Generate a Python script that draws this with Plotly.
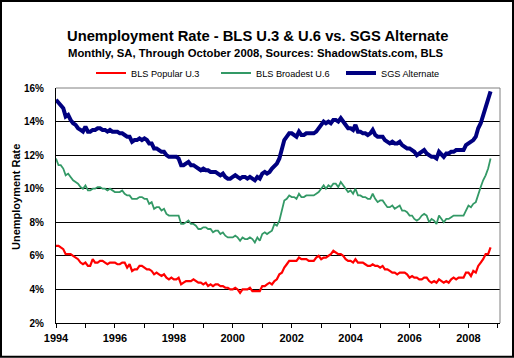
import pandas as pd
import plotly.graph_objects as go

# ---- data (monthly, SA, Jan 1994 - Oct 2008) ----
start_month = "1994-01-01"

u3_popular = [
    6.6, 6.6, 6.5, 6.4, 6.1, 6.1, 6.1, 6.0, 5.9, 5.8, 5.6, 5.5,   # 1994
    5.6, 5.4, 5.4, 5.8, 5.6, 5.6, 5.7, 5.7, 5.6, 5.5, 5.6, 5.6,   # 1995
    5.6, 5.5, 5.5, 5.6, 5.6, 5.3, 5.5, 5.1, 5.2, 5.2, 5.4, 5.4,   # 1996
    5.3, 5.2, 5.2, 5.1, 4.9, 5.0, 4.9, 4.8, 4.9, 4.7, 4.6, 4.7,   # 1997
    4.6, 4.6, 4.7, 4.3, 4.4, 4.5, 4.5, 4.5, 4.6, 4.5, 4.4, 4.4,   # 1998
    4.3, 4.4, 4.2, 4.3, 4.2, 4.3, 4.3, 4.2, 4.2, 4.1, 4.1, 4.0,   # 1999
    4.0, 4.1, 4.0, 3.8, 4.0, 4.0, 4.0, 4.1, 3.9, 3.9, 3.9, 3.9,   # 2000
    4.2, 4.2, 4.3, 4.4, 4.3, 4.5, 4.6, 4.9, 5.0, 5.3, 5.5, 5.7,   # 2001
    5.7, 5.7, 5.7, 5.9, 5.8, 5.8, 5.8, 5.7, 5.7, 5.7, 5.9, 6.0,   # 2002
    5.8, 5.9, 5.9, 6.0, 6.1, 6.3, 6.2, 6.1, 6.1, 6.0, 5.8, 5.7,   # 2003
    5.7, 5.6, 5.8, 5.6, 5.6, 5.6, 5.5, 5.4, 5.4, 5.5, 5.4, 5.4,   # 2004
    5.3, 5.4, 5.2, 5.2, 5.1, 5.0, 5.0, 4.9, 5.0, 5.0, 5.0, 4.9,   # 2005
    4.7, 4.8, 4.7, 4.7, 4.6, 4.6, 4.7, 4.7, 4.5, 4.4, 4.5, 4.4,   # 2006
    4.6, 4.5, 4.4, 4.5, 4.4, 4.6, 4.7, 4.6, 4.7, 4.7, 4.7, 5.0,   # 2007
    5.0, 4.8, 5.1, 5.0, 5.4, 5.6, 5.8, 6.1, 6.1, 6.5,             # 2008
]

u6_broadest = [
    11.8, 11.4, 11.4, 11.2, 10.8, 10.9, 10.7, 10.5, 10.4, 10.3, 10.1, 10.0,  # 1994
    10.2, 9.9, 9.9, 10.0, 10.0, 10.1, 10.1, 10.0, 10.0, 9.9, 10.0, 9.9,      # 1995
    9.8, 9.8, 9.8, 9.9, 9.7, 9.6, 9.6, 9.4, 9.4, 9.4, 9.5, 9.5,              # 1996
    9.4, 9.4, 9.1, 9.2, 8.8, 8.9, 8.9, 8.7, 8.8, 8.5, 8.4, 8.4,              # 1997
    8.4, 8.4, 8.4, 7.9, 7.9, 8.0, 8.1, 7.9, 7.9, 7.8, 7.6, 7.6,              # 1998
    7.7, 7.7, 7.6, 7.6, 7.4, 7.5, 7.5, 7.3, 7.4, 7.2, 7.1, 7.1,              # 1999
    7.1, 7.2, 7.1, 6.9, 7.1, 7.0, 7.0, 7.1, 7.0, 6.8, 7.1, 6.9,              # 2000
    7.3, 7.4, 7.3, 7.4, 7.5, 7.9, 7.8, 8.1, 8.7, 9.3, 9.4, 9.6,              # 2001
    9.5, 9.5, 9.4, 9.7, 9.5, 9.5, 9.6, 9.6, 9.6, 9.6, 9.7, 9.8,              # 2002
    10.0, 10.2, 10.0, 10.2, 10.1, 10.3, 10.3, 10.1, 10.4, 10.2, 10.0, 9.8,   # 2003
    9.9, 9.7, 10.0, 9.6, 9.6, 9.5, 9.5, 9.4, 9.4, 9.7, 9.4, 9.2,             # 2004
    9.3, 9.3, 9.1, 8.9, 8.9, 9.0, 8.8, 8.9, 9.0, 8.7, 8.7, 8.6,              # 2005
    8.4, 8.4, 8.2, 8.1, 8.2, 8.4, 8.5, 8.4, 8.0, 8.2, 8.1, 7.9,              # 2006
    8.4, 8.2, 8.0, 8.2, 8.2, 8.3, 8.4, 8.4, 8.4, 8.4, 8.4, 8.7,              # 2007
    9.0, 8.9, 9.1, 9.2, 9.7, 10.1, 10.5, 10.8, 11.2, 11.8,                   # 2008
]

sgs_alternate = [
    15.3, 15.1, 15.0, 14.8, 14.3, 14.4, 14.1, 13.9, 13.8, 13.6, 13.5, 13.4,  # 1994
    13.7, 13.4, 13.4, 13.5, 13.5, 13.6, 13.6, 13.5, 13.5, 13.4, 13.5, 13.4,  # 1995
    13.4, 13.4, 13.3, 13.3, 13.2, 13.1, 13.1, 12.8, 12.9, 12.9, 13.0, 12.9,  # 1996
    13.0, 12.9, 12.7, 12.7, 12.4, 12.4, 12.3, 12.2, 12.2, 12.0, 11.9, 11.9,  # 1997
    11.9, 11.9, 11.8, 11.4, 11.4, 11.5, 11.6, 11.4, 11.4, 11.3, 11.2, 11.1,  # 1998
    11.2, 11.1, 11.1, 11.0, 11.0, 11.0, 10.9, 10.8, 10.9, 10.7, 10.6, 10.6,  # 1999
    10.7, 10.8, 10.7, 10.6, 10.7, 10.7, 10.6, 10.7, 10.6, 10.5, 10.7, 10.6,  # 2000
    10.9, 11.0, 10.9, 11.0, 11.2, 11.4, 11.5, 11.8, 12.4, 12.9, 13.1, 13.3,  # 2001
    13.3, 13.2, 13.1, 13.4, 13.2, 13.2, 13.3, 13.3, 13.3, 13.3, 13.4, 13.6,  # 2002
    13.8, 14.0, 13.9, 14.0, 13.9, 14.1, 14.1, 14.0, 14.2, 14.0, 13.8, 13.6,  # 2003
    13.6, 13.5, 13.8, 13.4, 13.4, 13.3, 13.3, 13.2, 13.3, 13.5, 13.2, 13.1,  # 2004
    13.1, 13.1, 12.9, 12.8, 12.7, 12.8, 12.7, 12.7, 12.8, 12.6, 12.5, 12.4,  # 2005
    12.4, 12.3, 12.2, 12.0, 12.1, 12.2, 12.3, 12.1, 12.0, 11.9, 11.9, 11.8,  # 2006
    12.2, 12.0, 11.9, 12.1, 12.1, 12.2, 12.2, 12.3, 12.3, 12.3, 12.3, 12.6,  # 2007
    12.7, 12.8, 12.9, 13.1, 13.6, 13.9, 14.4, 14.8, 15.3, 15.8,              # 2008
]

series_names = ["BLS Popular U.3", "BLS Broadest U.6", "SGS Alternate"]
y_tick_values = [2, 4, 6, 8, 10, 12, 14, 16]
y_tick_labels = ["2%", "4%", "6%", "8%", "10%", "12%", "14%", "16%"]

months = pd.date_range(start_month, periods=len(u3_popular), freq="MS")

FONT = "Liberation Sans, Arial, sans-serif"

fig = go.Figure()
fig.add_trace(go.Scatter(x=months, y=u3_popular, name=series_names[0], mode="lines",
                         line=dict(color="#FF0000", width=2.2)))
fig.add_trace(go.Scatter(x=months, y=u6_broadest, name=series_names[1], mode="lines",
                         line=dict(color="#339966", width=1.8)))
fig.add_trace(go.Scatter(x=months, y=sgs_alternate, name=series_names[2], mode="lines",
                         line=dict(color="#000080", width=4)))

fig.update_layout(
    width=514, height=358,
    margin=dict(l=56, r=14, t=88, b=35),
    paper_bgcolor="white", plot_bgcolor="white",
    font=dict(family=FONT, color="black"),
    showlegend=True,
    legend=dict(orientation="h", x=(91 - 56) / 444, y=(323 - 73) / 235,
                xanchor="left", yanchor="middle",
                entrywidth=80, entrywidthmode="pixels", itemwidth=30,
                font=dict(size=9.2, family=FONT, color="black"),
                bgcolor="rgba(0,0,0,0)", borderwidth=0, traceorder="normal"),
    xaxis=dict(type="date", range=["1994-01-01", "2009-01-26"],
               tick0="1994-01-01", dtick="M24", tickformat="%Y",
               ticks="outside", ticklen=4, tickcolor="black",
               minor=dict(dtick="M12", tick0="1994-01-01", ticks="outside", ticklen=4,
                          tickcolor="black", showgrid=False),
               showline=True, linecolor="black", linewidth=1,
               showgrid=False, zeroline=False, automargin=False,
               tickfont=dict(size=11, family=FONT, weight="bold", color="black"),
               ticklabelstandoff=1),
    yaxis=dict(range=[2, 16], tickmode="array", tickvals=y_tick_values, ticktext=y_tick_labels,
               showline=True, linecolor="black", linewidth=1,
               showgrid=True, gridcolor="black", gridwidth=1, zeroline=False,
               ticks="", ticklabelstandoff=9, automargin=False,
               tickfont=dict(size=10, family=FONT, weight="bold", color="black")),
    shapes=[
        dict(type="line", xref="paper", yref="paper", x0=0, x1=1, y0=1, y1=1,
             line=dict(color="#808080", width=1), layer="above"),
        dict(type="line", xref="paper", yref="paper", x0=1, x1=1, y0=0, y1=1,
             line=dict(color="#808080", width=1), layer="above"),
        dict(type="rect", xref="paper", yref="paper",
             x0=(1 - 56) / 444, x1=(513 - 56) / 444,
             y0=(323 - 356.7) / 235, y1=(323 - 1) / 235,
             line=dict(color="black", width=2), fillcolor="rgba(0,0,0,0)", layer="above"),
    ],
    annotations=[
        dict(text="Unemployment Rate - BLS U.3 & U.6 vs. SGS Alternate",
             xref="paper", yref="paper", x=(257 - 56) / 444, y=(323 - 35.5) / 235,
             xanchor="center", yanchor="middle", showarrow=False,
             font=dict(size=14.75, family=FONT, weight="bold", color="black")),
        dict(text="Monthly, SA, Through October 2008, Sources: ShadowStats.com, BLS",
             xref="paper", yref="paper", x=(256 - 56) / 444, y=(323 - 53) / 235,
             xanchor="center", yanchor="middle", showarrow=False,
             font=dict(size=11.3, family=FONT, weight="bold", color="black")),
        dict(text="Unemployment Rate", textangle=-90,
             xref="paper", yref="paper", x=(15.5 - 56) / 444, y=(323 - 197.5) / 235,
             xanchor="center", yanchor="middle", showarrow=False,
             font=dict(size=11, family=FONT, weight="bold", color="black")),
    ],
)

fig.write_html("out.html", config={"displayModeBar": False},
               post_script="document.body.style.margin='0px';")
